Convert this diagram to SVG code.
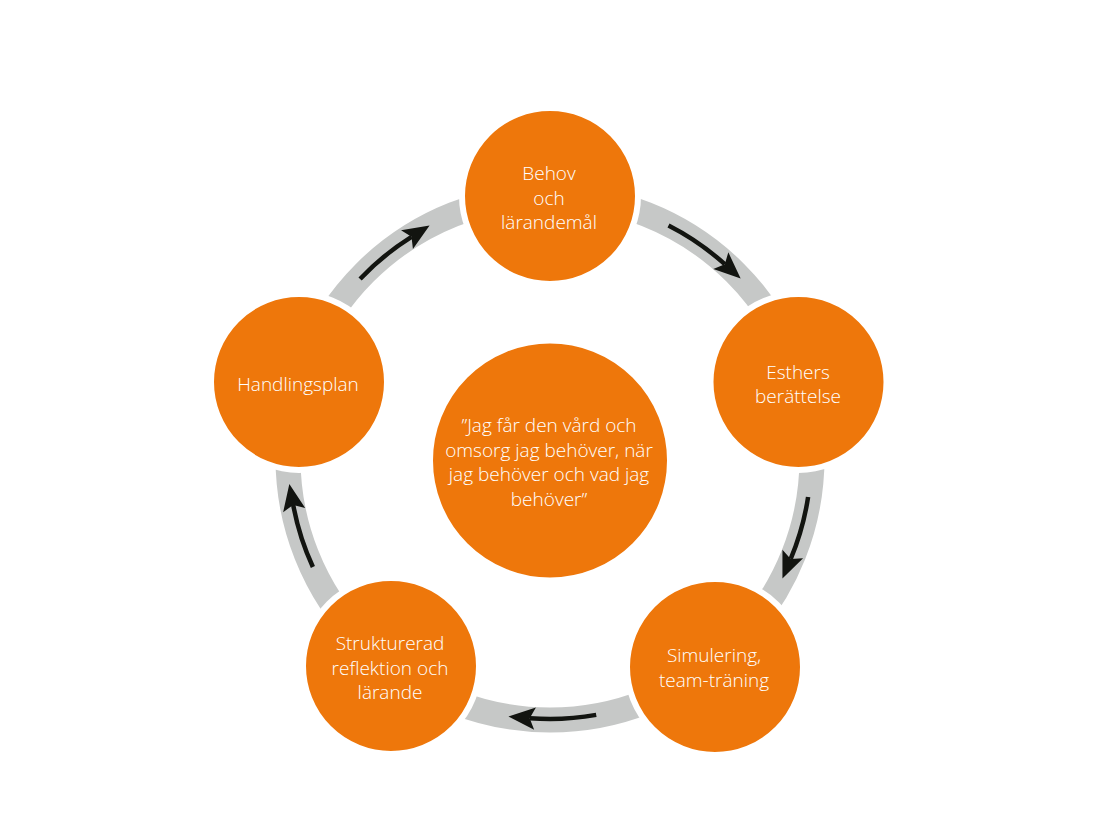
<svg xmlns="http://www.w3.org/2000/svg" width="1112" height="834" viewBox="0 0 1112 834">
<style>
.node{fill:#ee770b;stroke:#ffffff;stroke-width:6}
.lbl{font-family:"Open Sans",Lato,"Liberation Sans",sans-serif;font-size:19px;font-weight:350;fill:#ffffff;text-anchor:middle}
.ring{fill:none;stroke:#c6c8c7;stroke-width:25}
.arr{fill:none;stroke:#121410;stroke-width:4.5;marker-end:url(#ah)}
</style>
<defs>
<marker id="ah" markerUnits="userSpaceOnUse" markerWidth="32" markerHeight="30" refX="5" refY="0" viewBox="-2 -12 30 24" orient="auto" overflow="visible">
<path d="M25,0 L0,-10.5 L5,0 L0,10.5 Z" fill="#121410"/>
</marker>
</defs>
<rect width="1112" height="834" fill="#ffffff"/>
<g id="connectors">
<circle class="ring" cx="550" cy="458" r="262"/>
<path class="arr" d="M668.5,225.5 A261,261 0 0 1 724.8,264.2"/>
<path class="arr" d="M808.1,497.0 A261,261 0 0 1 790.7,558.9"/>
<path class="arr" d="M596.2,714.9 A261,261 0 0 1 529.7,718.2"/>
<path class="arr" d="M312.9,567.0 A261,261 0 0 1 293.2,504.9"/>
<path class="arr" d="M360.1,279.0 A261,261 0 0 1 411.5,236.8"/>
</g>
<g id="center">
<circle class="node" cx="550" cy="460.5" r="120"/>
<text class="lbl"><tspan x="549" y="432">”Jag får den vård och</tspan><tspan x="549" y="456.5">omsorg jag behöver, när</tspan><tspan x="549" y="481">jag behöver och vad jag</tspan><tspan x="549" y="505.5">behöver”</tspan></text>
</g>
<g id="behov">
<circle class="node" cx="550" cy="196" r="88"/>
<text class="lbl"><tspan x="549" y="180">Behov</tspan><tspan x="549" y="205">och</tspan><tspan x="549" y="229">lärandemål</tspan></text>
</g>
<g id="esthers">
<circle class="node" cx="798.5" cy="382" r="88"/>
<text class="lbl"><tspan x="798" y="379">Esthers</tspan><tspan x="798" y="403">berättelse</tspan></text>
</g>
<g id="simulering">
<circle class="node" cx="715" cy="667" r="88"/>
<text class="lbl"><tspan x="714" y="662">Simulering,</tspan><tspan x="714" y="687">team-träning</tspan></text>
</g>
<g id="strukturerad">
<circle class="node" cx="391" cy="666" r="88"/>
<text class="lbl"><tspan x="390" y="650">Strukturerad</tspan><tspan x="390" y="675">reflektion och</tspan><tspan x="390" y="699">lärande</tspan></text>
</g>
<g id="handlingsplan">
<circle class="node" cx="299" cy="382" r="88"/>
<text class="lbl"><tspan x="298" y="391">Handlingsplan</tspan></text>
</g>
</svg>
